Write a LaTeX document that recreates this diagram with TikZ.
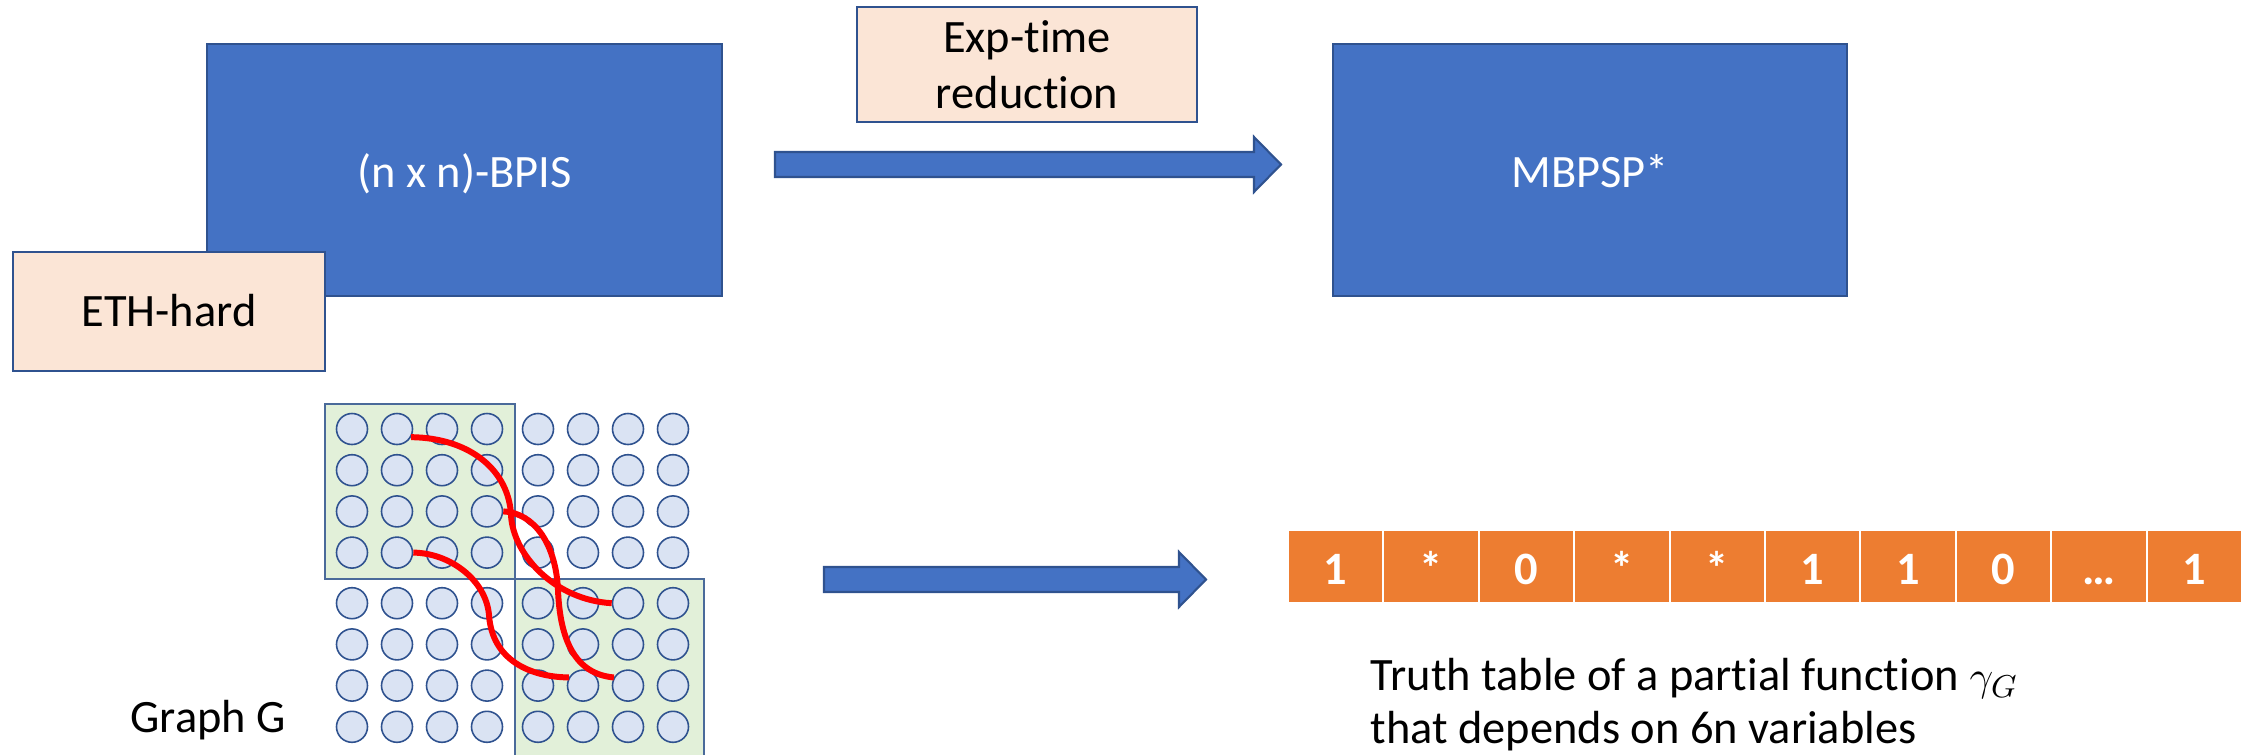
\documentclass[tikz,border=0pt]{standalone}
\usepackage{fontspec}
\setmainfont{Carlito}[Ligatures=NoCommon]
\usetikzlibrary{calc}

\definecolor{boxblue}{HTML}{4472C4}
\definecolor{edgeblue}{HTML}{2F528F}
\definecolor{peach}{HTML}{FBE5D6}
\definecolor{palegreen}{HTML}{E2F0D9}
\definecolor{quadedge}{HTML}{4A6A9A}
\definecolor{dotblue}{HTML}{DAE3F3}
\definecolor{cellorange}{HTML}{ED7D31}

\tikzset{
  probbox/.style={draw=edgeblue, line width=0.6pt, fill=boxblue, text=white,
    inner sep=0pt, text height=9.7pt, text depth=0pt},
  notebox/.style={draw=edgeblue, line width=0.6pt, fill=peach, align=center, inner sep=0pt},
  gnode/.style={circle, draw=edgeblue, line width=0.45pt, fill=dotblue,
    minimum size=3.1mm, inner sep=0pt},
  quadrant/.style={draw=quadedge, line width=0.5pt, fill=palegreen},
  bitcell/.style={fill=cellorange, text=white, font=\bfseries, inner sep=0pt,
    minimum width=9.34mm, minimum height=7.1mm, text height=10pt, text depth=0pt},
  blockarrow/.style={fill=boxblue, draw=edgeblue, line width=0.6pt},
  fat arrow/.style={to path={
    ($(\tikztostart)+(0,-12.5)$) -- ($(\tikztotarget)+(-27,-12.5)$)
    -- ($(\tikztotarget)+(-27,-27.5)$) -- (\tikztotarget)
    -- ($(\tikztotarget)+(-27,27.5)$) -- ($(\tikztotarget)+(-27,12.5)$)
    -- ($(\tikztostart)+(0,12.5)$) -- cycle}},
  redlink/.style={draw=red, line width=1.7pt},
  caption/.style={inner sep=0pt, anchor=base west}
}

\begin{document}
\fontsize{13.2pt}{15.9pt}\selectfont
\begin{tikzpicture}[x=0.01cm, y=-0.01cm]
\useasboundingbox (0,0) rectangle (2254,754);

% problems and their labels
\node[probbox, minimum width=51.5mm, minimum height=25.2mm] (bpis) at (464.5,170) {(n x n)-BPIS};
\node[notebox, minimum width=31.2mm, minimum height=11.9mm, text height=8.8pt, text depth=0pt]
  (eth) at (169,311.5) {ETH-hard};
\node[notebox, minimum width=34mm, minimum height=11.5mm] (exp) at (1027,64.5) {Exp-time\\reduction};
\node[probbox, minimum width=51.4mm, minimum height=25.2mm] (mbpsp) at (1590,170) {MBPSP*};

% reduction arrows
\coordinate (r1s) at (775,164.5);
\coordinate (r1e) at (1281,164.5);
\draw[blockarrow, fat arrow] (r1s) to (r1e);
\coordinate (r2s) at (824,579.5);
\coordinate (r2e) at (1206,579.5);
\draw[blockarrow, fat arrow] (r2s) to (r2e);

% the grid graph with two highlighted blocks
\draw[quadrant] (325,404) rectangle (515,579);
\draw[quadrant] (515,579) rectangle (704,757);
\foreach \r in {0,...,7}{
  \foreach \c in {0,...,7}{
    \pgfmathsetmacro\vx{352+45*\c+6*(\c>3)}
    \pgfmathsetmacro\vy{429+41.2*\r+9.4*(\r>3)}
    \node[gnode] (v\r\c) at (\vx,\vy) {};
  }
}

% edges between the blocks
\draw[redlink] (v01.-30) .. controls (472,438) and (509,472) .. (511,515)
  .. controls (513,555) and (555,600) .. (v46.west);
\draw[redlink] (v23.east) .. controls (535,513) and (556,545) .. (558,590)
  .. controls (560,640) and (575,674) .. (v66.150);
\draw[redlink] (v31.east) .. controls (450,553) and (486,580) .. (489,615)
  .. controls (492,660) and (530,677) .. (v65.150);

\node[caption] (gname) at (130,732) {Graph G};

% truth table
\foreach \b [count=\i from 0] in {1,*,0,*,*,1,1,0,…,1}{
  \node[bitcell] (cell\i) at (1335.7+95.4*\i,566.5) {\b};
}
\node[caption] (tt1) at (1370,690) {Truth table of a partial function $\gamma_{G}$};
\node[caption] (tt2) at (1370,743) {that depends on 6n variables};
\end{tikzpicture}
\end{document}
